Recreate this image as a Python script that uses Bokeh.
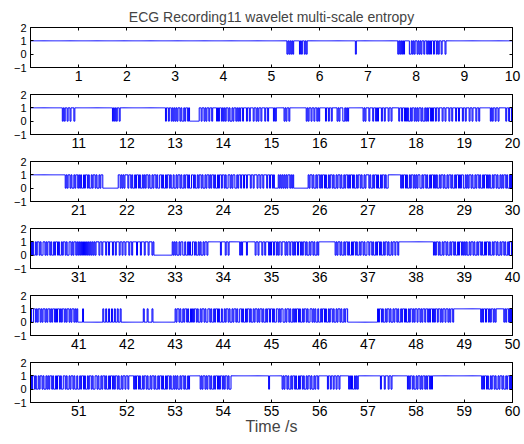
from bokeh.plotting import figure
from bokeh.layouts import column
from bokeh.models import Range1d, FixedTicker, LinearAxis, ColumnDataSource
from bokeh.embed import file_html
from bokeh.resources import INLINE

title_text = "ECG Recording11 wavelet multi-scale entropy"
x_label = "Time /s"
panel_starts = [0, 10, 20, 30, 40, 50]
seconds_per_panel = 10
samples_per_second = 50
sample_step = 0.02
y_ticks = [-1, 0, 1, 2]
x_tick_steps = [1, 2, 3, 4, 5, 6, 7, 8, 9, 10]

# entropy state (1 / 0) per 0.02 s sample, one string per second (short strings stay at 1)
panel_1 = [
    "",
    "",
    "",
    "",
    "",
    "1111111111" "111111" "0101010" "111111" "010" "11" "010",
    "1111111111" "1111111111" "1111111111" "1111111" "0",
    "1111111111" "1111111111" "11111111111" "0101010" "11111" "0010101",
    "1010101101101010110110101101110",
    "",
]
panel_2 = [
    "1111111111" "1111111111" "1111111111" "111" "0101101101110",
    "1111111111" "1111111111" "1111111111" "11111" "01010110",
    "1111111111" "1111111111" "1111111111" "1111111111" "0110110101",
    "0101101001011010" "000000000" "110110101101101" "111" "0101101",
    "010110100101101010" "11011101101110110101101110110111",
    "11010" "11111111" "010110" "11111111111111111" "01011011011010",
    "111111" "0" "11" "0" "11" "0" "11111" "0" "1" "0" "111" "00" "1" "0" "1" "0"
    "111111111111111" "0" "1" "0" "11",
    "10111011010111011011101101" "111111" "0110110" "10100101101",
    "010110100101011010" "11011011101101110110111011011101",
    "10111011011101101" "1111111111" "010110110" "1111111" "0110110",
]
panel_3 = [
    "1111111111" "1111111111" "1111111111" "111111" "01011010010110",
    "10100101101001011010010110" "000000000000000" "1101" "01011",
    "10110100101101001010110100101101001101001011010010",
    "01011010010110100110100101101001011010110100101101",
    "101001101011001011" "01101101110110111011011011101101",
    "1010" "000" "10101010" "10110101" "000000000000000" "101101001011",
    "01011010010110100101101001011010110100101101001011",
    "1010010110100101101001" "111111111111" "0101101001011010",
    "10110010110100101101010010110100101101001011010110",
    "01010110100101101001011010100101101001010110100101",
]
panel_4 = [
    "10100101101001101011010010110100101101001101011010",
    "10" "10101010101010101" "1101101110110111011011101101101",
    "110110111" "1011101110111011101" "0000000000000000000" "101",
    "0100101100100101001101001010010110" "1111111111111" "011",
    "11" "0" "11" "0" "11111111111" "0" "1" "0" "1111" "0" "11111111" "01101110110111010",
    "11011010110111010110110101101101011010010110100101",
    "1111111111111111" "0101101001011010010110100101101001",
    "10110100101101001011010010" "110110",
    "111111111111111111" "01011010010110100101101001011010",
    "10100101101001011010010110100101101001011010010110",
]
panel_5 = [
    "10011010110101101011010110101101011010110101101010",
    "0000" "1" "00000000000000000000" "1" "001" "001" "001" "001" "001" "001" "000000",
    "00000000000000000" "1" "000" "1" "0000" "1" "00000000000000000000000",
    "10110100101101001010110100101101001101001011010010",
    "01011010010110100110100101101001011010110100101101",
    "10100110101100101101001010110100101101001101010010",
    "010110100101101001011010010110" "00000000000000000000",
    "0000000000" "1011010010110100101101001011010010110101",
    "101101011011010110101101101011011010110",
    "11111111111111111" "01011011010110101" "1111111" "010110101",
]
panel_6 = [
    "10110100101101001010110100101101001101001011010010",
    "01011010010110100110100101101001011010110100101101",
    "10" "11111" "0101101001011010010110100101101001011010010",
    "1010010110100101" "1111111111" "010110101101001011010110",
    "101101001" "1111111111" "1111111111" "1111111111" "11111111" "0",
    "11111111111" "01011010010110100101101001011010010110" "1",
    "11111111" "01101101101101" "11111111" "01010010101",
    "1111111111111" "0111011101101111" "111111111111" "010110100",
    "1011010110101101011",
    "111111111111111111" "01011010010110100101101001011010",
]
panels = [panel_1, panel_2, panel_3, panel_4, panel_5, panel_6]

FONT = "Liberation Sans"
heights = [89, 67, 67, 67, 67, 87]
tops = [27, 5, 5, 5, 5, 5]
bottoms = [22, 22, 22, 22, 22, 42]

figs = []
last = len(panels) - 1
for k, (start, secs) in enumerate(zip(panel_starts, panels)):
    bits = "".join((s + "1" * samples_per_second)[:samples_per_second] for s in secs)
    ys = [int(c) for c in bits]
    xs = [start + i * sample_step for i in range(len(ys))]
    xs.append(start + seconds_per_panel)
    ys.append(ys[-1])
    src = ColumnDataSource(dict(x=xs, y=ys))

    p = figure(width=522, height=heights[k],
               x_range=Range1d(start, start + seconds_per_panel),
               y_range=Range1d(y_ticks[0], y_ticks[-1]),
               output_backend="svg", toolbar_location=None,
               min_border_left=30, min_border_right=10,
               min_border_top=tops[k], min_border_bottom=bottoms[k],
               x_axis_location=None, y_axis_location=None)
    p.outline_line_color = "black"
    p.outline_line_width = 1
    p.xgrid.visible = False
    p.ygrid.visible = False
    p.background_fill_color = "white"
    p.border_fill_color = "white"

    xt = FixedTicker(ticks=[start + d for d in x_tick_steps])
    yt = FixedTicker(ticks=y_ticks)

    xb = LinearAxis(ticker=xt)
    xb.major_label_text_font = FONT
    xb.major_label_text_font_size = "14px"
    xb.major_label_standoff = 3
    if k == last:
        xb.axis_label = x_label
        xb.axis_label_text_font = FONT
        xb.axis_label_text_font_size = "16px"
        xb.axis_label_text_font_style = "normal"
        xb.axis_label_standoff = -1
    xa = LinearAxis(ticker=xt)
    xa.major_label_text_font_size = "1px"
    xa.major_label_text_color = None
    xa.major_label_standoff = 0
    yl = LinearAxis(ticker=yt)
    yl.major_label_text_font = FONT
    yl.major_label_text_font_size = "11px"
    yl.major_label_standoff = 4
    yr = LinearAxis(ticker=yt)
    yr.major_label_text_font_size = "1px"
    yr.major_label_text_color = None
    yr.major_label_standoff = 0
    for ax in (xb, xa, yl, yr):
        ax.major_tick_in = 3
        ax.major_tick_out = 0
        ax.minor_tick_in = 0
        ax.minor_tick_out = 0
        ax.minor_tick_line_color = None
        ax.axis_line_color = "black"
        ax.major_tick_line_color = "black"
    for ax in (xb, yl):
        ax.major_label_text_color = "black"
    p.add_layout(xb, "below")
    p.add_layout(xa, "above")
    p.add_layout(yl, "left")
    p.add_layout(yr, "right")

    if k == 0:
        p.title.text = title_text
        p.title.text_font = FONT
        p.title.text_font_size = "14px"
        p.title.text_font_style = "normal"
        p.title.align = "center"
        p.title.standoff = 5

    p.step("x", "y", source=src, mode="after", line_color="#0000ff", line_width=1)
    figs.append(p)

layout = column(*figs, spacing=0)
open("out.html", "w").write(file_html(layout, INLINE))
